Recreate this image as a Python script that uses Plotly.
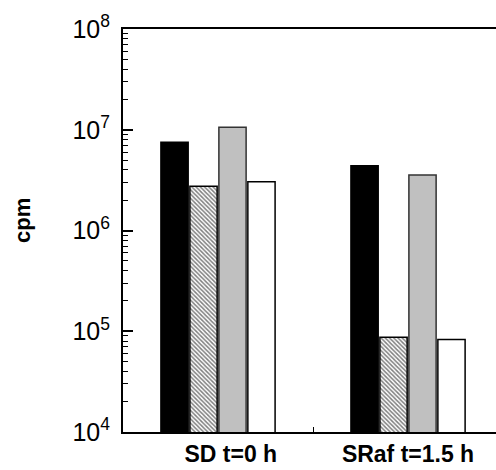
import plotly.graph_objects as go

categories = ["SD t=0 h", "SRaf t=1.5 h"]
category_labels = ["\u00a0\u00a0\u00a0\u00a0SD t=0 h", "SRaf t=1.5 h"]
series_a = [7.5e6, 4.4e6]
series_b = [2.75e6, 8.7e4]
series_c = [1.06e7, 3.55e6]
series_d = [3.05e6, 8.3e4]
tick_vals = [1e4, 1e5, 1e6, 1e7, 1e8]
tick_text = ["10<sup>4</sup>", "10<sup>5</sup>", "10<sup>6</sup>", "10<sup>7</sup>", "10<sup>8</sup>"]
minor_vals = [m * d for d in (1e4, 1e5, 1e6, 1e7) for m in range(2, 10)]

fig = go.Figure()
fig.add_bar(x=categories, y=series_a, marker=dict(color="black", line=dict(color="black", width=1.5)))
fig.add_bar(x=categories, y=series_b, marker=dict(color="white", line=dict(color="black", width=1.5),
            pattern=dict(shape="\\", size=3, solidity=0.5, fgcolor="black", bgcolor="white")))
fig.add_bar(x=categories, y=series_c, marker=dict(color="#c0c0c0", line=dict(color="#333333", width=1.5)))
fig.add_bar(x=categories, y=series_d, marker=dict(color="white", line=dict(color="black", width=1.5)))

fig.update_layout(
    width=496, height=470,
    margin=dict(l=123, r=0, t=29, b=38),
    paper_bgcolor="white", plot_bgcolor="white",
    showlegend=False,
    barmode="group", bargap=0.39, bargroupgap=0.06,
    font=dict(family="Liberation Sans, Arial", color="black"),
)
fig.update_xaxes(
    range=[-0.5, 1.463], showline=True, linecolor="black", linewidth=2, mirror=True,
    tickmode="array", tickvals=categories, ticktext=category_labels,
    ticks="inside", tickson="boundaries", ticklen=5, tickcolor="black", tickwidth=1,
    tickfont=dict(size=23, family="Liberation Sans, Arial", weight="bold"),
    showgrid=False,
)
fig.update_yaxes(
    type="log", range=[4, 8], showline=True, linecolor="black", linewidth=2,
    tickvals=tick_vals, ticktext=tick_text, ticks="inside", ticklen=10, tickwidth=1.5, tickcolor="black",
    tickfont=dict(size=25, family="Liberation Sans, Arial"), ticklabelstandoff=6,
    minor=dict(tickvals=minor_vals, ticks="inside", ticklen=5, tickcolor="black", tickwidth=1, showgrid=False),
    showgrid=False, zeroline=False,
)
fig.add_annotation(
    text="<b>cpm</b>", xref="paper", yref="paper", x=-0.271, y=0.526,
    xanchor="center", yanchor="middle",
    textangle=-90, showarrow=False, font=dict(size=22, family="Liberation Sans, Arial", color="black"),
)
fig.write_html("out.html")
